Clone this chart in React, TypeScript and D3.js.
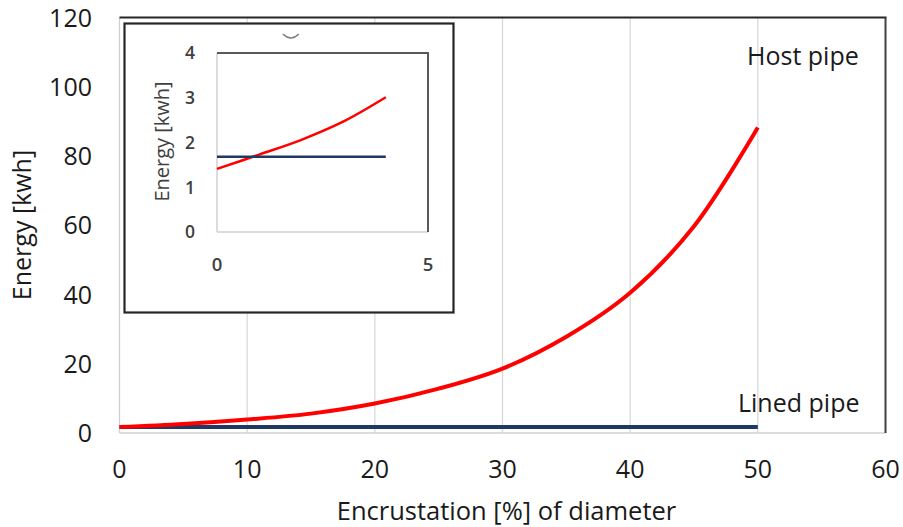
import React from 'react';
import * as d3 from 'd3';

// main chart data
const encrustation = [0, 5, 10, 15, 20, 25, 30, 35, 40, 45, 50];
const hostPipe = [1.7, 2.6, 3.9, 5.6, 8.5, 12.8, 18.6, 27.8, 40.5, 59.7, 88.2];
const linedPipeX = [0, 50];
const linedPipe = [1.7, 1.7];

const xTicks = [0, 10, 20, 30, 40, 50, 60];
const yTicks = [0, 20, 40, 60, 80, 100, 120];

// inset (zoom on 0..5 %)
const insetX = [0, 1, 2, 3, 4];
const insetHost = [1.41, 1.73, 2.06, 2.47, 3.01];
const insetLinedX = [0, 4];
const insetLined = [1.68, 1.68];
const insetXTicks = [0, 5];
const insetYTicks = [0, 1, 2, 3, 4];

const W = 903;
const H = 527;
const font = '"Open Sans", sans-serif';

const App = () => {
  const x = d3.scaleLinear().domain([0, 60]).range([119.5, 885.5]);
  const y = d3.scaleLinear().domain([0, 120]).range([433, 17.5]);

  const ix = d3.scaleLinear().domain([0, 5]).range([217, 428]);
  const iy = d3.scaleLinear().domain([0, 4]).range([232, 53]);

  const mainLine = d3.line<[number, number]>()
    .x(d => x(d[0]))
    .y(d => y(d[1]))
    .curve(d3.curveCatmullRom.alpha(0.5));
  const insetLine = d3.line<[number, number]>()
    .x(d => ix(d[0]))
    .y(d => iy(d[1]))
    .curve(d3.curveCatmullRom.alpha(0.5));

  const hostPts = encrustation.map((v, i) => [v, hostPipe[i]] as [number, number]);
  const linedPts = linedPipeX.map((v, i) => [v, linedPipe[i]] as [number, number]);
  const iHostPts = insetX.map((v, i) => [v, insetHost[i]] as [number, number]);
  const iLinedPts = insetLinedX.map((v, i) => [v, insetLined[i]] as [number, number]);

  const [x0, x1] = x.range();
  const [y0, y1] = y.range();
  const [ix0, ix1] = ix.range();
  const [iy0, iy1] = iy.range();

  // inset frame sits a bit outside its plot area
  const box = { left: 124.5, top: 23.5, right: 453.5, bottom: 312.5 };

  return (
    <svg width={W} height={H} style={{ position: 'absolute', left: 0, top: 0, background: '#fff' }}
      fontFamily={font}>
      {/* vertical gridlines */}
      {xTicks.filter(t => t > 0 && t < 60).map(t => (
        <line key={'g' + t} x1={x(t)} x2={x(t)} y1={y0} y2={y1} stroke="#d9d9d9" strokeWidth={1.3} />
      ))}
      {/* plot frame */}
      <line x1={x0} x2={x0} y1={y0} y2={y1} stroke="#d0d0d0" strokeWidth={1.3} />
      <line x1={x0} x2={x1} y1={y0} y2={y0} stroke="#d0d0d0" strokeWidth={1.5} />
      <line x1={x0} x2={x1 + 1} y1={y1} y2={y1} stroke="#262626" strokeWidth={2} />
      <line x1={x1} x2={x1} y1={y1} y2={y0} stroke="#404040" strokeWidth={2} />

      {/* series */}
      <path d={mainLine(linedPts) || ''} fill="none" stroke="#1f3864" strokeWidth={4} />
      <path d={mainLine(hostPts) || ''} fill="none" stroke="#ff0000" strokeWidth={4} />

      {/* y ticks */}
      {yTicks.map(t => (
        <text key={'y' + t} x={92} y={y(t)} dy="0.36em" textAnchor="end" fontSize={25} fill="#1a1a1a">{t}</text>
      ))}
      {/* x ticks */}
      {xTicks.map(t => (
        <text key={'x' + t} x={x(t)} y={478} textAnchor="middle" fontSize={25} fill="#1a1a1a">{t}</text>
      ))}
      <text x={(x0 + x1) / 2 + 4} y={520} textAnchor="middle" fontSize={25.5} fill="#1a1a1a">
        Encrustation [%] of diameter
      </text>
      <text transform={`translate(31,225) rotate(-90)`} textAnchor="middle" fontSize={25} fill="#1a1a1a">
        Energy [kwh]
      </text>

      {/* series labels */}
      <text x={747} y={65} fontSize={25} fill="#1a1a1a">Host pipe</text>
      <text x={738} y={412} fontSize={25} fill="#1a1a1a">Lined pipe</text>

      {/* inset */}
      <rect x={box.left} y={box.top} width={box.right - box.left} height={box.bottom - box.top}
        fill="#fff" stroke="#262626" strokeWidth={2.2} />
      <line x1={ix0} x2={ix0} y1={iy0} y2={iy1} stroke="#d0d0d0" strokeWidth={1.5} />
      <line x1={ix0} x2={ix1} y1={iy0} y2={iy0} stroke="#d0d0d0" strokeWidth={1.5} />
      <line x1={ix0} x2={ix1 + 1} y1={iy1} y2={iy1} stroke="#595959" strokeWidth={2} />
      <line x1={ix1} x2={ix1} y1={iy1} y2={iy0} stroke="#595959" strokeWidth={2} />
      <path d={insetLine(iHostPts) || ''} fill="none" stroke="#ff0000" strokeWidth={2.5} />
      <path d={insetLine(iLinedPts) || ''} fill="none" stroke="#1f3864" strokeWidth={2.5} />
      {insetYTicks.map(t => (
        <text key={'iy' + t} x={195} y={iy(t)} dy="0.36em" textAnchor="end" fontSize={17.5}
          fontWeight={600} fill="#404040">{t}</text>
      ))}
      {insetXTicks.map(t => (
        <text key={'ix' + t} x={ix(t)} y={264} dy="0.36em" textAnchor="middle" fontSize={18.5}
          fontWeight={600} fill="#404040">{t}</text>
      ))}
      <text transform={`translate(169,141.5) rotate(-90)`} textAnchor="middle" fontSize={20} fill="#404040">
        Energy [kwh]
      </text>
      {/* leftover of a cropped title in the inset */}
      <path d={`M${ix(1.56)},34 Q${ix(1.75)},42 ${ix(1.94)},34`} fill="none" stroke="#808080" strokeWidth={1.5} />
    </svg>
  );
};

export default App;
